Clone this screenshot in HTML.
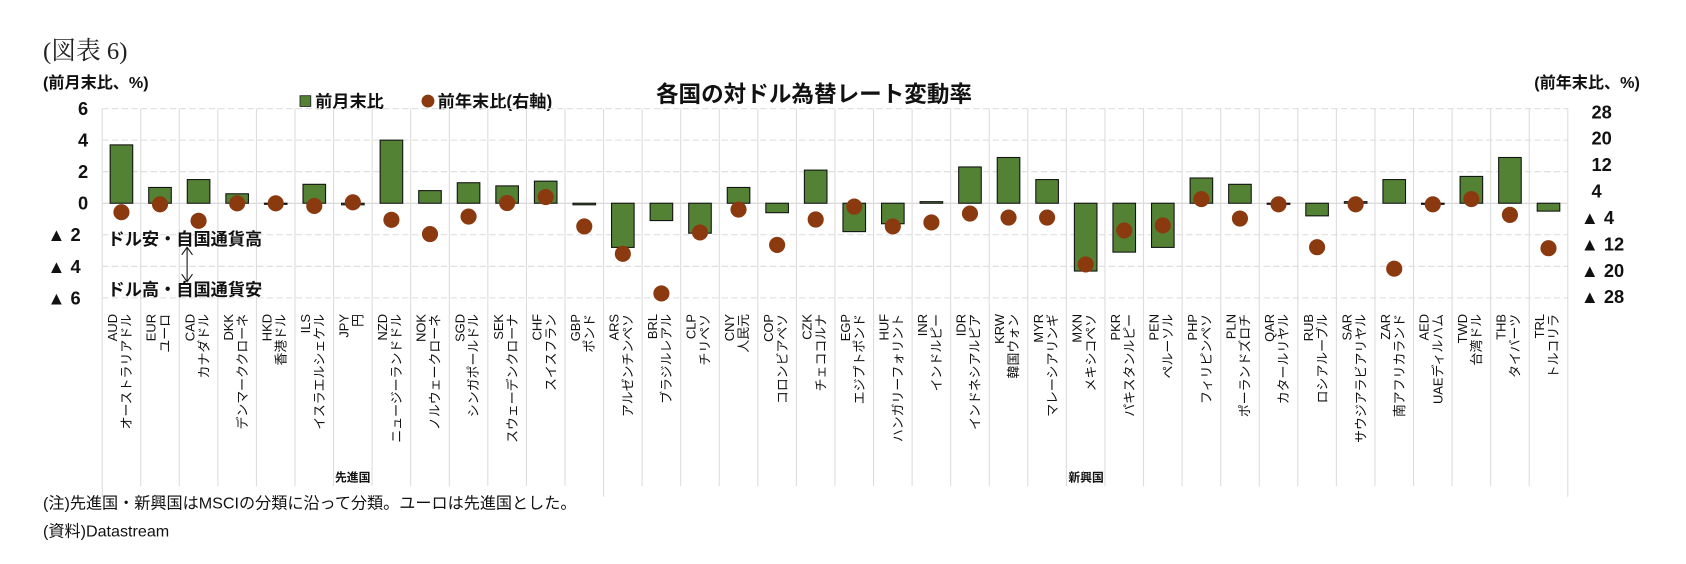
<!DOCTYPE html>
<html><head><meta charset="utf-8">
<style>
html,body{margin:0;padding:0;background:#fff;}
svg{display:block;font-family:"Liberation Sans","Noto Sans CJK JP",sans-serif;}
</style></head>
<body>
<svg id="chart" width="1686" height="564" viewBox="0 0 1686 564" xmlns="http://www.w3.org/2000/svg">
<g transform="scale(1.0753)">
<text x="40" y="55" font-family="'Liberation Serif','Noto Serif CJK SC',serif" font-size="23" fill="#222">(図表 6)</text>
<text x="40" y="82" font-size="15" font-weight="bold" fill="#111">(前月末比、%)</text>
<text x="1525" y="82" font-size="15" font-weight="bold" fill="#111" text-anchor="end">(前年末比、%)</text>
<text x="757" y="95" font-size="21" font-weight="bold" fill="#111" text-anchor="middle">各国の対ドル為替レート変動率</text>
<g>
<rect x="279" y="89" width="10" height="10" fill="#548235" stroke="#222" stroke-width="0.8"/>
<text x="293" y="100" font-size="16" font-weight="bold" fill="#111">前月末比</text>
<circle cx="398" cy="94" r="6" fill="#8B3A10"/>
<text x="407" y="100" font-size="16" font-weight="bold" fill="#111">前年末比(右軸)</text>
</g>
<g id="grid"></g>
<g id="bars"></g>
<g id="dots"></g>
<g id="axes"></g>
<g id="xlabels"></g>
<g>
<text x="100" y="228" font-size="16" font-weight="bold" fill="#111">ドル安・自国通貨高</text>
<text x="100" y="275" font-size="16" font-weight="bold" fill="#111">ドル高・自国通貨安</text>
<line x1="174" y1="230" x2="174" y2="262" stroke="#111" stroke-width="1"/>
<polyline points="169,237 174,230 179,237" fill="none" stroke="#111" stroke-width="1"/>
<polyline points="169,255 174,262 179,255" fill="none" stroke="#111" stroke-width="1"/>
</g>
<text x="328" y="448" font-size="11" font-weight="bold" fill="#111" text-anchor="middle">先進国</text>
<text x="1010" y="448" font-size="11" font-weight="bold" fill="#111" text-anchor="middle">新興国</text>
<text x="40" y="473" font-size="15" fill="#111">(注)先進国・新興国はMSCIの分類に沿って分類。ユーロは先進国とした。</text>
<text x="40" y="499" font-size="15" fill="#111">(資料)Datastream</text>
</g>
</svg>
<script>
const codes=["AUD","EUR","CAD","DKK","HKD","ILS","JPY","NZD","NOK","SGD","SEK","CHF","GBP","ARS","BRL","CLP","CNY","COP","CZK","EGP","HUF","INR","IDR","KRW","MYR","MXN","PKR","PEN","PHP","PLN","QAR","RUB","SAR","ZAR","AED","TWD","THB","TRL"];
const names=["オーストラリアドル","ユーロ","カナダドル","デンマーククローネ","香港ドル","イスラエルシェケル","円","ニュージーランドドル","ノルウェークローネ","シンガポールドル","スウェーデンクローナ","スイスフラン","ポンド","アルゼンチンペソ","ブラジルレアル","チリペソ","人民元","コロンビアペソ","チェココルナ","エジプトポンド","ハンガリーフォリント","インドルピー","インドネシアルピア","韓国ウォン","マレーシアリンギ","メキシコペソ","パキスタンルピー","ペルーソル","フィリピンペソ","ポーランドズロチ","カタールリヤル","ロシアルーブル","サウジアラビアリヤル","南アフリカランド","UAEディルハム","台湾ドル","タイバーツ","トルコリラ"];
const monthly=[3.7,1.0,1.5,0.6,0,1.2,-0.1,4.0,0.8,1.3,1.1,1.4,-0.1,-2.8,-1.1,-1.9,1.0,-0.6,2.1,-1.8,-1.3,0.1,2.3,2.9,1.5,-4.3,-3.1,-2.8,1.6,1.2,0,-0.8,0.1,1.5,0,1.7,2.9,-0.5];
const yearly=[-2.4,0,-5,0.3,0.3,-0.5,0.6,-4.7,-9,-3.7,0.4,2.2,-6.7,-15,-27,-8.5,-1.6,-12.3,-4.6,-0.7,-6.7,-5.5,-2.8,-4,-4,-18.2,-7.9,-6.4,1.6,-4.3,0,-13,0,-19.5,0,1.6,-3.2,-13.3];
const leftTicks=[6,4,2,0,-2,-4,-6];
const leftTickLabels=["6","4","2","0","▲ 2","▲ 4","▲ 6"];
const rightTicks=[28,20,12,4,-4,-12,-20,-28];
const rightTickLabels=["28","20","12","4","▲ 4","▲ 12","▲ 20","▲ 28"];
const developedCount=13;

const NS="http://www.w3.org/2000/svg";
const X0=95,X1=1458,YT=101,YB=277;
const n=codes.length,cw=(X1-X0)/n;
const yL=v=>YB-(v+6)/12*(YB-YT);
const yR=v=>276-(v+28)/56*(276-104);
const xC=i=>X0+(i+0.5)*cw;
function mk(tag,attrs,parent){const e=document.createElementNS(NS,tag);for(const k in attrs)e.setAttribute(k,attrs[k]);parent.appendChild(e);return e;}
const grid=document.getElementById('grid'),bars=document.getElementById('bars'),dots=document.getElementById('dots'),axes=document.getElementById('axes'),xl=document.getElementById('xlabels');
leftTicks.forEach((t,i)=>{
  const l=mk('line',{x1:X0,x2:X1,y1:yL(t),y2:yL(t),stroke:t===0?'#cfcfcf':'#dcdcdc','stroke-width':1,'stroke-dasharray':t===0?'':'6,3'},grid);
  
  
  const tx=mk('text',{x:82,y:yL(t)+6,'font-size':17,'font-weight':'bold',fill:'#111','text-anchor':'end'},axes);
  tx.textContent=leftTickLabels[i];
  if(i>=4){tx.setAttribute('x',44);tx.setAttribute('text-anchor','start');tx.textContent=leftTickLabels[i].replace('▲ ','▲\u00a0');}
  
  
});
rightTicks.forEach((t,i)=>{
  const tx=mk('text',{x:t>0?1480:1470,y:yR(t)+6,'font-size':17,'font-weight':'bold',fill:'#111'},axes);
  tx.textContent=rightTickLabels[i];
  
  
});
for(let i=0;i<=n;i++){
  const x=X0+i*cw;
  const long=(i===0||i===developedCount||i===n);
  const l=mk('line',{x1:x,x2:x,y1:YT,y2:long?462:452,stroke:'#dcdcdc','stroke-width':1},grid);
  
  
}
codes.forEach((c,i)=>{
  const x=xC(i),v=monthly[i];
  const y0=yL(0),y1=yL(v);
  const r=mk('rect',{x:x-10.5,y:Math.min(y0,y1),width:21,height:Math.max(Math.abs(y1-y0),1),fill:'#548235',stroke:'#111','stroke-width':1},bars);
  
  
  const d=mk('circle',{cx:x,cy:yR(yearly[i]),r:7.5,fill:'#8B3A10'},dots);
  
  
  const t1=mk('text',{transform:`translate(${x-4},292) rotate(-90)`,'font-size':12,fill:'#111','text-anchor':'end'},xl);
  t1.textContent=c;
  
  
  const t2=mk('text',{transform:`translate(${x+9},292) rotate(-90)`,'font-size':12,fill:'#111','text-anchor':'end'},xl);
  t2.textContent=names[i];
  
  
});
</script>
</body></html>
